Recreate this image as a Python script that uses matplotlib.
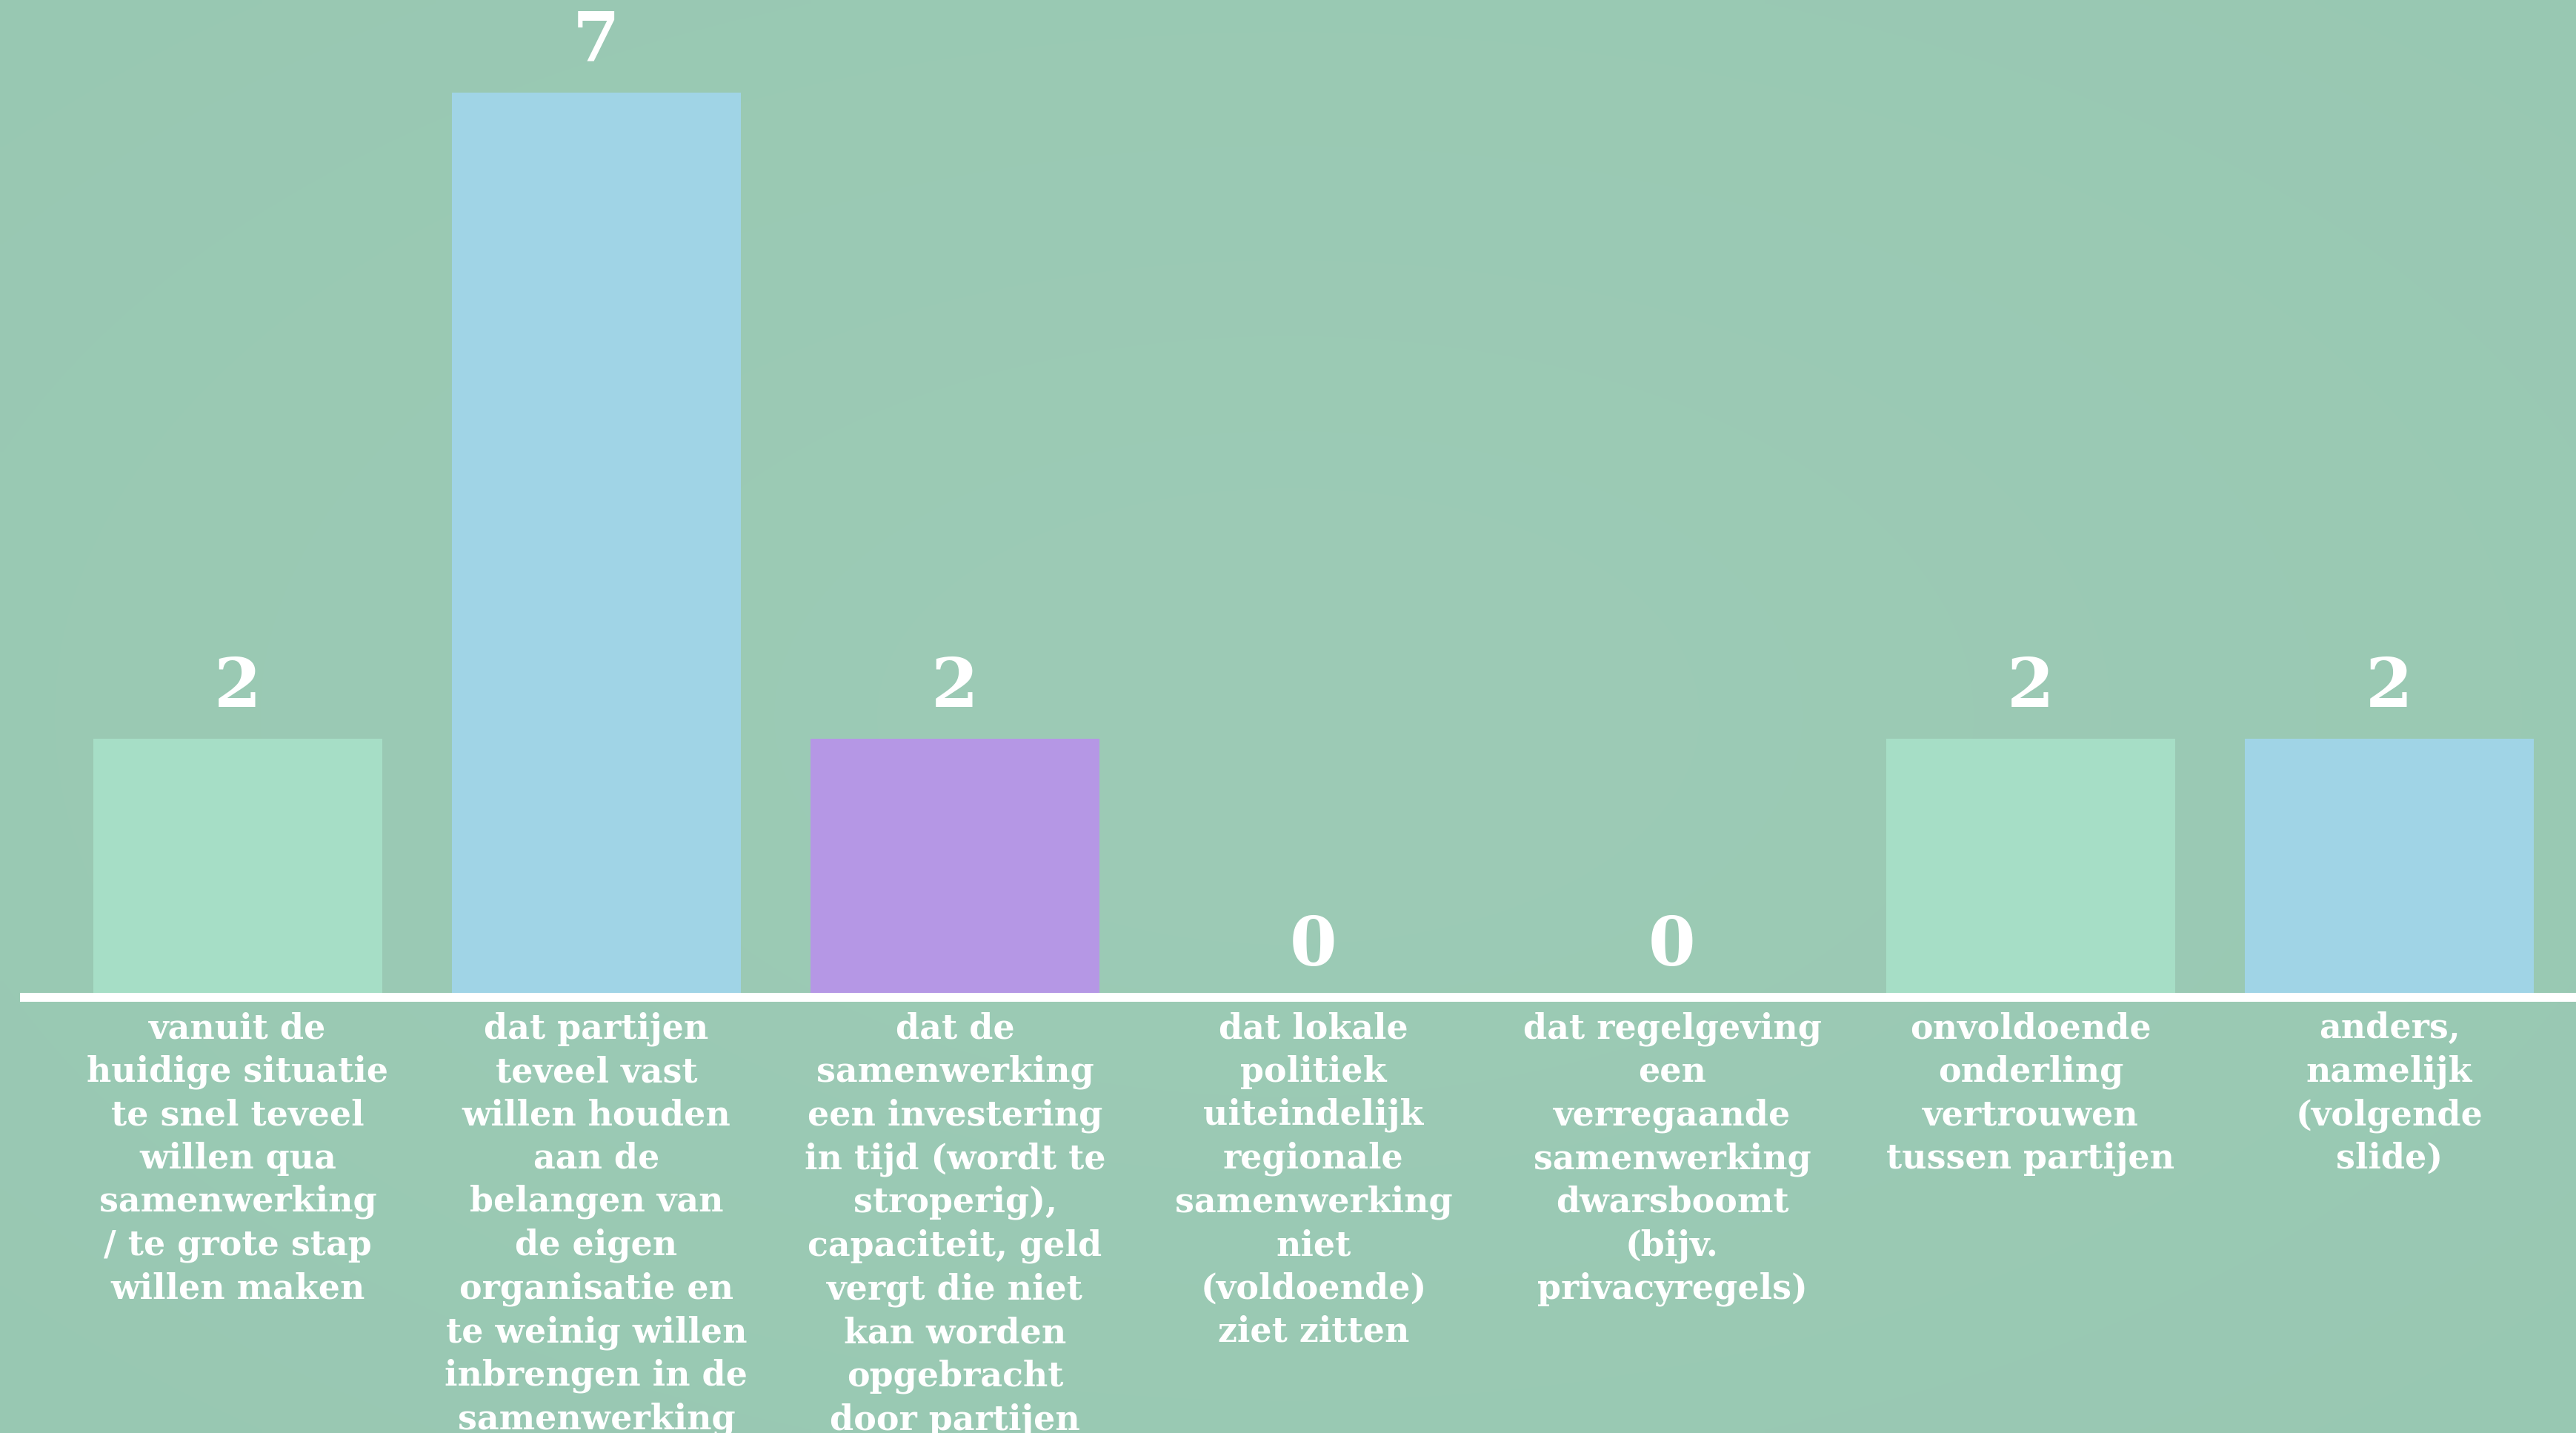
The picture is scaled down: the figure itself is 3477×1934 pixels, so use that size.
import matplotlib
matplotlib.use("Agg")
import matplotlib.pyplot as plt
import numpy as np

categories = [
    "vanuit de\nhuidige situatie\nte snel teveel\nwillen qua\nsamenwerking\n/ te grote stap\nwillen maken",
    "dat partijen\nteveel vast\nwillen houden\naan de\nbelangen van\nde eigen\norganisatie en\nte weinig willen\ninbrengen in de\nsamenwerking",
    "dat de\nsamenwerking\neen investering\nin tijd (wordt te\nstroperig),\ncapaciteit, geld\nvergt die niet\nkan worden\nopgebracht\ndoor partijen",
    "dat lokale\npolitiek\nuiteindelijk\nregionale\nsamenwerking\nniet\n(voldoende)\nziet zitten",
    "dat regelgeving\neen\nverregaande\nsamenwerking\ndwarsboomt\n(bijv.\nprivacyregels)",
    "onvoldoende\nonderling\nvertrouwen\ntussen partijen",
    "anders,\nnamelijk\n(volgende\nslide)",
]
values = [2, 7, 2, 0, 0, 2, 2]
bar_colors = ["#A6DEC6", "#A0D4E6", "#B597E5", "#F2C48D", "#E6A0A0", "#A6DEC6", "#A0D4E6"]

BG = "#9BCAB4"
W, H, DPI = 3477, 1934, 100

fig = plt.figure(figsize=(W / DPI, H / DPI), dpi=DPI)
fig.patch.set_facecolor(BG)

# very subtle vignette background
bg_ax = fig.add_axes([0, 0, 1, 1])
yy, xx = np.mgrid[0:1:200j, 0:1:360j]
r = np.sqrt(((xx - 0.5) / 0.8) ** 2 + ((yy - 0.5) / 0.8) ** 2)
base = np.array([0x9D, 0xCB, 0xB6]) / 255.0
edge = np.array([0x98, 0xC8, 0xB2]) / 255.0
t = np.clip(r, 0, 1)[..., None]
img = base * (1 - t) + edge * t
bg_ax.imshow(img, extent=[0, 1, 0, 1], aspect="auto", interpolation="bilinear")
bg_ax.axis("off")

ax = fig.add_axes([0, 0, 1, 1])
ax.patch.set_alpha(0)

x = np.arange(len(values))
pitch_px = 484.0
x0_px = 321.0
unit_px = 174.5
base_px_from_bottom = H - 1346.0

ax.set_xlim(-x0_px / pitch_px, (W - x0_px) / pitch_px)
ax.set_ylim(-base_px_from_bottom / unit_px, (H - base_px_from_bottom) / unit_px)

ax.bar(x, values, width=390 / pitch_px, color=bar_colors, zorder=2)

xmin_line = (27 - x0_px) / pitch_px
ax.plot([xmin_line, ax.get_xlim()[1]], [0, 0], color="white", lw=12 * 72 / DPI,
        solid_capstyle="butt", zorder=3)

for xi, v in zip(x, values):
    ax.annotate(str(v), xy=(xi, v), xytext=(0, 17), textcoords="offset points",
                ha="center", va="bottom", color="white", fontsize=66,
                fontweight="bold", family="DejaVu Serif", zorder=4)

for xi, lab in zip(x, categories):
    ax.annotate(lab, xy=(xi, 0), xytext=(0, -14), textcoords="offset points",
                ha="center", va="top", multialignment="center", color="white",
                fontsize=33, fontweight="bold", family="DejaVu Serif",
                linespacing=1.34, zorder=4)

ax.axis("off")
fig.savefig("out.png", dpi=DPI, facecolor=BG)
